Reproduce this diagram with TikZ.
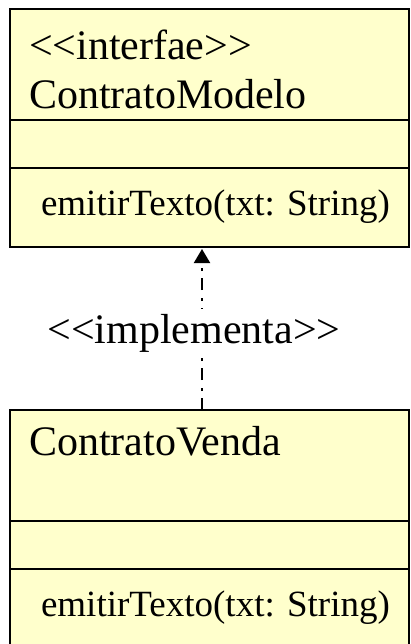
\documentclass[tikz,border=0pt]{standalone}
\usepackage{fontspec}
\newfontfamily\umlfont{Liberation Serif}
\usepackage{tikz}
\definecolor{umlyellow}{RGB}{255, 255, 204}
\usetikzlibrary{arrows.meta, positioning}

\begin{document}
\begin{tikzpicture}[
    x=1pt, y=1pt,
    node distance=0pt,
    part/.style={rectangle, draw=black, fill=umlyellow, line width=2pt,
                 minimum width=399pt, inner sep=0pt, outer sep=0pt},
    namepart/.style={part, minimum height=111pt},
    attrpart/.style={part, minimum height=48pt},
    methpart/.style={part, minimum height=79pt},
    classname/.style={inner sep=0pt, outer sep=0pt, align=left,
                      font=\umlfont\fontsize{42}{49}\selectfont},
    method/.style={inner sep=0pt, outer sep=0pt,
                   font=\umlfont\fontsize{37}{44}\selectfont},
    stereo/.style={fill=white, inner xsep=2pt, inner ysep=5pt,
                   font=\umlfont\fontsize{42}{49}\selectfont},
    realize/.style={-{Triangle[width=16pt, length=14pt]}, line width=2pt,
                    dash pattern=on 12pt off 7pt on 3pt off 8pt}
]
    \useasboundingbox (0,0) rectangle (410,-644);

    % interface
    \node[namepart, anchor=north west] (mhead) at (10,-9) {};
    \node[attrpart, below=of mhead] (mattr) {};
    \node[methpart, below=of mattr] (mmeth) {};
    \node[classname, below right=20.5pt and 19pt of mhead.north west] (mname) {<<interfae>>\\ContratoModelo};
    \node[method, below right=21.5pt and 31pt of mmeth.north west] (mop) {emitirTexto(txt: String)};

    % implementing class
    \node[namepart, below=163pt of mmeth] (vhead) {};
    \node[attrpart, below=of vhead] (vattr) {};
    \node[methpart, below=of vattr] (vmeth) {};
    \node[classname, below right=16pt and 19pt of vhead.north west] (vname) {ContratoVenda};
    \node[method, below right=21.5pt and 31pt of vmeth.north west] (vop) {emitirTexto(txt: String)};

    \draw[realize, shorten >=2pt] ([xshift=-7.5pt]vhead.north) -- node[stereo, midway, xshift=-8pt, yshift=-4.5pt] (impl) {<<implementa>>} ([xshift=-7.5pt]mmeth.south);
\end{tikzpicture}
\end{document}
